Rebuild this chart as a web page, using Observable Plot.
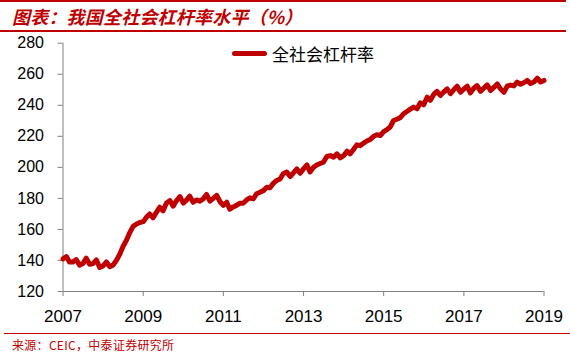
<!DOCTYPE html>
<html>
<head>
<meta charset="utf-8">
<script src="https://cdn.jsdelivr.net/npm/d3@7"></script>
<script src="https://cdn.jsdelivr.net/npm/@observablehq/plot@0.6"></script>
<style>
  body { margin: 0; background: #fff; }
  #wrap { position: relative; width: 570px; height: 353px; overflow: hidden; background: #fff; }
  .rule { position: absolute; left: 0; width: 566px; background: #C00000; }
  #title { position: absolute; left: 12px; top: 4px; font-family: "Noto Sans CJK SC", sans-serif; font-weight: bold; font-style: italic; font-size: 18px; line-height: 24px; color: #C00000; white-space: nowrap; letter-spacing: 0.2px; }
  #chart { position: absolute; left: 0; top: 0; }
  #legend { position: absolute; left: 232px; top: 41px; height: 24px; display: flex; align-items: center; font-family: "Noto Sans CJK SC", sans-serif; font-size: 17px; color: #000; white-space: nowrap; }
  #legend .sw { display: inline-block; width: 35px; height: 5px; border-radius: 2.5px; background: #C00000; margin-right: 5px; }
  #source { position: absolute; left: 12px; top: 338px; font-family: "Noto Sans CJK SC", sans-serif; font-size: 12px; line-height: 14px; color: #C00000; white-space: nowrap; letter-spacing: 0.3px; }
  .xax text { font-size: 17px; }
</style>
</head>
<body>
<div id="wrap">
  <div class="rule" style="top:0;height:2px"></div>
  <div id="title">图表：我国全社会杠杆率水平（%）</div>
  <div class="rule" style="top:29.5px;height:2px"></div>
  <div id="chart"></div>
  <div id="legend"><span class="sw"></span><span>全社会杠杆率</span></div>
  <div class="rule" style="top:333px;height:1px;left:4px"></div>
  <div id="source">来源：CEIC，中泰证券研究所</div>
</div>
<script>
// Monthly total-society leverage ratio (%), one array per year (Jan..Dec)
const lev2007 = [141, 142.5, 139, 139, 140.6, 137, 138, 141.5, 137.5, 138, 140.4, 135.5];
const lev2008 = [136.5, 139, 136, 137, 140, 144, 149, 153, 158, 162, 163.5, 164.5];
const lev2009 = [165, 168, 170, 167.5, 171, 174.3, 172, 177, 178.6, 175, 178.6, 181.2];
const lev2010 = [177, 179, 181.4, 177.5, 179, 178.2, 179.7, 182.5, 178.2, 180, 182, 178];
const lev2011 = [175.5, 177.5, 173, 174.5, 175.5, 176.9, 176.9, 179, 180.4, 179.7, 183, 184];
const lev2012 = [185, 187.2, 186.8, 189.8, 191.5, 192.5, 196, 196.9, 194.1, 196.5, 199, 196.2];
const lev2013 = [199, 201.6, 197, 200, 201.5, 202.5, 203.3, 207, 207.6, 206.5, 208.7, 206.1];
const lev2014 = [207.5, 210.4, 208.7, 211.5, 214.5, 214, 215.5, 217, 218, 220, 221, 220.5];
const lev2015 = [223, 224.4, 226, 230.2, 231, 232, 234.5, 236, 237.5, 238.8, 237.7, 241.6];
const lev2016 = [240.3, 245.2, 243.2, 247, 249, 246.3, 248.5, 250.6, 247.5, 250, 252.3, 248.4];
const lev2017 = [250.5, 252.3, 248, 251, 252.7, 249, 251, 253.2, 249.5, 251.5, 253.8, 250.5];
const lev2018 = [248.4, 252.5, 253, 252.5, 255, 253.5, 254.5, 256, 254, 255, 257.4, 255];
const lev2019 = [256];

const years = [2007, 2008, 2009, 2010, 2011, 2012, 2013, 2014, 2015, 2016, 2017, 2018, 2019];
const yearSeries = [lev2007, lev2008, lev2009, lev2010, lev2011, lev2012, lev2013, lev2014, lev2015, lev2016, lev2017, lev2018, lev2019];

const xTickYears = [2007, 2009, 2011, 2013, 2015, 2017, 2019];
const yTicks = [120, 140, 160, 180, 200, 220, 240, 260, 280];

const data = [];
years.forEach((yr, i) => {
  yearSeries[i].forEach((v, m) => data.push({date: new Date(Date.UTC(yr, m, 1)), value: v}));
});

const x0 = new Date(Date.UTC(2007, 0, 1));
const x1 = new Date(Date.UTC(2019, 0, 1));

const chart = Plot.plot({
  width: 570,
  height: 353,
  marginTop: 42.7,
  marginBottom: 62,
  marginLeft: 62.5,
  marginRight: 26.5,
  style: {fontFamily: "'Liberation Sans', Arial, sans-serif", fontSize: "16px", color: "#000", background: "transparent", overflow: "visible"},
  x: {type: "utc", domain: [x0, x1]},
  y: {domain: [120, 280]},
  marks: [
    Plot.axisY({ticks: yTicks, tickSize: 5, tickPadding: 14, stroke: "#808080", label: null}),
    Plot.axisX({ticks: xTickYears.map(y => new Date(Date.UTC(y, 0, 1))), tickSize: 5, tickPadding: 13, tickFormat: d => String(d.getUTCFullYear()), label: null, stroke: "#808080", className: "xax"}),
    Plot.ruleX([x0], {stroke: "#808080"}),
    Plot.ruleY([120], {stroke: "#808080"}),
    Plot.line(data, {x: "date", y: "value", stroke: "#C00000", strokeWidth: 5, strokeLinejoin: "round", strokeLinecap: "round"})
  ]
});
document.getElementById("chart").appendChild(chart);
</script>
</body>
</html>
